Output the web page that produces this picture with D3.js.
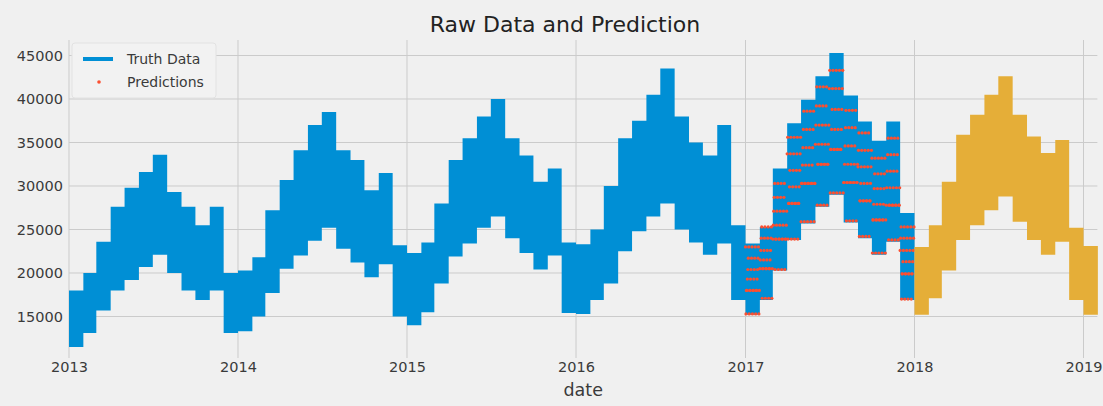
<!DOCTYPE html>
<html>
<head>
<meta charset="utf-8">
<script src="https://cdn.jsdelivr.net/npm/d3@7"></script>
<style>
  html, body { margin: 0; padding: 0; background: #f0f0f0; }
  svg { display: block; font-family: "DejaVu Sans", sans-serif; }
</style>
</head>
<body>
<svg id="chart" width="1103" height="406"></svg>
<script>
// Daily sales, summarised per month as the lowest and highest daily total (Jan 2013 .. Dec 2017)
const truthLow = [
  11500, 13100, 15700, 18000, 19200, 20700, 22100, 20000, 18000, 16900, 18000, 13100,
  13300, 15000, 17700, 20500, 22000, 23700, 25200, 22800, 21200, 19500, 21000, 15000,
  14000, 15500, 18800, 21900, 23400, 25200, 26500, 24000, 22300, 20400, 22000, 15400,
  15300, 16900, 18800, 22500, 24800, 26500, 28000, 25000, 23500, 22100, 23400, 16900,
  15200, 16900, 20300, 23800, 25700, 27600, 29000, 25800, 24000, 22100, 23600, 16900
];
const truthHigh = [
  18000, 20000, 23600, 27600, 29800, 31600, 33600, 29300, 27600, 25500, 27600, 20000,
  20300, 21800, 27200, 30700, 34100, 37000, 38500, 34100, 33000, 29500, 31500, 23200,
  22300, 23500, 28000, 33000, 35500, 38000, 40000, 35500, 33500, 30500, 32000, 23500,
  23300, 25000, 30000, 35500, 37500, 40500, 43500, 38000, 35000, 33500, 37000, 25500,
  23400, 25300, 32000, 37200, 39900, 42600, 45300, 40400, 37400, 35200, 37400, 26900
];

// Model predictions for 2017: one level per month and weekday (Mon .. Sun)
const predLevels = [
  [15300, 18000, 18000, 19300, 20400, 21700, 23000],
  [17100, 20500, 20500, 21500, 22600, 24000, 25300],
  [20400, 23900, 23900, 25500, 27100, 28700, 30300],
  [23900, 28000, 28000, 29900, 31800, 33700, 35600],
  [25900, 30300, 30300, 32400, 34400, 36500, 38600],
  [27800, 32500, 32500, 34800, 37000, 39200, 41400],
  [29200, 34200, 34200, 36500, 38800, 41200, 43300],
  [26000, 30400, 30400, 32500, 34600, 36700, 38700],
  [24200, 28300, 28300, 30300, 32200, 34100, 36100],
  [22300, 26100, 26100, 27900, 29700, 31400, 33200],
  [23800, 27800, 27800, 29800, 31700, 33600, 35500],
  [17000, 19900, 19900, 21300, 22600, 24000, 25300]
];

// Forecast band, Jan 2018 .. Jan 2019 (monthly low / high)
const futureLow  = [15200, 17100, 20300, 23800, 25500, 27200, 28800, 25900, 23800, 22100, 23600, 16900, 15200];
const futureHigh = [23000, 25500, 30500, 35900, 38200, 40500, 42600, 38200, 35700, 33800, 35300, 25200, 23100];

const yTicks = [15000, 20000, 25000, 30000, 35000, 40000, 45000];
const xTickYears = [2013, 2014, 2015, 2016, 2017, 2018, 2019];

const colors = { truth: "#008fd5", pred: "#fc4f30", future: "#e5ae38", grid: "#cbcbcb", text: "#3a3a3a" };

const svg = d3.select("#chart");
const W = 1103, H = 406;
const plot = { left: 69, right: 1097.4, top: 40, bottom: 358 };

svg.append("rect").attr("width", W).attr("height", H).attr("fill", "#f0f0f0");

const x = d3.scaleUtc()
  .domain([new Date(Date.UTC(2013, 0, 1)), new Date(Date.UTC(2019, 0, 31))])
  .range([plot.left, plot.right]);
const y = d3.scaleLinear().domain([10230, 46780]).range([plot.bottom, plot.top]);

// grid
const grid = svg.append("g");
grid.selectAll("line.h").data(yTicks).join("line")
  .attr("x1", plot.left).attr("x2", plot.right)
  .attr("y1", d => y(d)).attr("y2", d => y(d))
  .attr("stroke", colors.grid).attr("stroke-width", 1);
grid.selectAll("line.v").data(xTickYears).join("line")
  .attr("x1", d => x(new Date(Date.UTC(d, 0, 1)))).attr("x2", d => x(new Date(Date.UTC(d, 0, 1))))
  .attr("y1", plot.top).attr("y2", plot.bottom)
  .attr("stroke", colors.grid).attr("stroke-width", 1);

// monthly step band helper
function bandRows(startYear, startMonth, lows, highs) {
  const rows = lows.map((lo, i) => ({
    date: new Date(Date.UTC(startYear, startMonth + i, 1)), lo, hi: highs[i]
  }));
  const last = rows[rows.length - 1];
  rows.push({ date: new Date(Date.UTC(startYear, startMonth + lows.length, 1)), lo: last.lo, hi: last.hi });
  return rows;
}
const band = d3.area()
  .curve(d3.curveStepAfter)
  .x(d => x(d.date))
  .y0(d => y(d.lo))
  .y1(d => y(d.hi));

svg.append("path")
  .datum(bandRows(2013, 0, truthLow, truthHigh))
  .attr("d", band)
  .attr("fill", colors.truth);

// predictions: one dot per day of 2017
const days2017 = d3.utcDay.range(new Date(Date.UTC(2017, 0, 1)), new Date(Date.UTC(2018, 0, 1)));
svg.append("g").selectAll("circle").data(days2017).join("circle")
  .attr("cx", d => x(d))
  .attr("cy", d => y(predLevels[d.getUTCMonth()][(d.getUTCDay() + 6) % 7]))
  .attr("r", 1.6)
  .attr("fill", colors.pred);

svg.append("path")
  .datum(bandRows(2018, 0, futureLow, futureHigh))
  .attr("d", band)
  .attr("fill", colors.future);

// axes labels
const yAxis = d3.axisLeft(y).tickValues(yTicks).tickSize(0).tickPadding(0).tickFormat(d3.format("d"));
const gy = svg.append("g").attr("transform", `translate(63,0)`).call(yAxis);
gy.select(".domain").remove();
gy.selectAll("text").attr("font-size", 14.5).attr("fill", colors.text)
  .attr("font-family", "DejaVu Sans, sans-serif");

const xAxis = d3.axisBottom(x)
  .tickValues(xTickYears.map(v => new Date(Date.UTC(v, 0, 1))))
  .tickSize(0).tickPadding(0).tickFormat(d3.utcFormat("%Y"));
const gx = svg.append("g").attr("transform", `translate(0,362)`).call(xAxis);
gx.select(".domain").remove();
gx.selectAll("text").attr("font-size", 14.5).attr("fill", colors.text)
  .attr("font-family", "DejaVu Sans, sans-serif");

svg.append("text").attr("x", (plot.left + plot.right) / 2).attr("y", 396)
  .attr("text-anchor", "middle").attr("font-size", 17.5).attr("fill", colors.text).text("date");

svg.append("text").attr("x", 565).attr("y", 32)
  .attr("text-anchor", "middle").attr("font-size", 22).attr("fill", "#222").text("Raw Data and Prediction");

// legend
const lg = svg.append("g");
lg.append("rect").attr("x", 72).attr("y", 43).attr("width", 144).attr("height", 55).attr("rx", 3)
  .attr("fill", "#f2f2f2").attr("stroke", "#e2e2e2").attr("stroke-width", 1);
lg.append("line").attr("x1", 83).attr("x2", 113).attr("y1", 59).attr("y2", 59)
  .attr("stroke", colors.truth).attr("stroke-width", 4);
lg.append("circle").attr("cx", 99).attr("cy", 82).attr("r", 1.8).attr("fill", colors.pred);
lg.append("text").attr("x", 127).attr("y", 59).attr("dy", "0.35em").attr("font-size", 14)
  .attr("fill", colors.text).text("Truth Data");
lg.append("text").attr("x", 127).attr("y", 82).attr("dy", "0.35em").attr("font-size", 14)
  .attr("fill", colors.text).text("Predictions");
</script>
</body>
</html>
